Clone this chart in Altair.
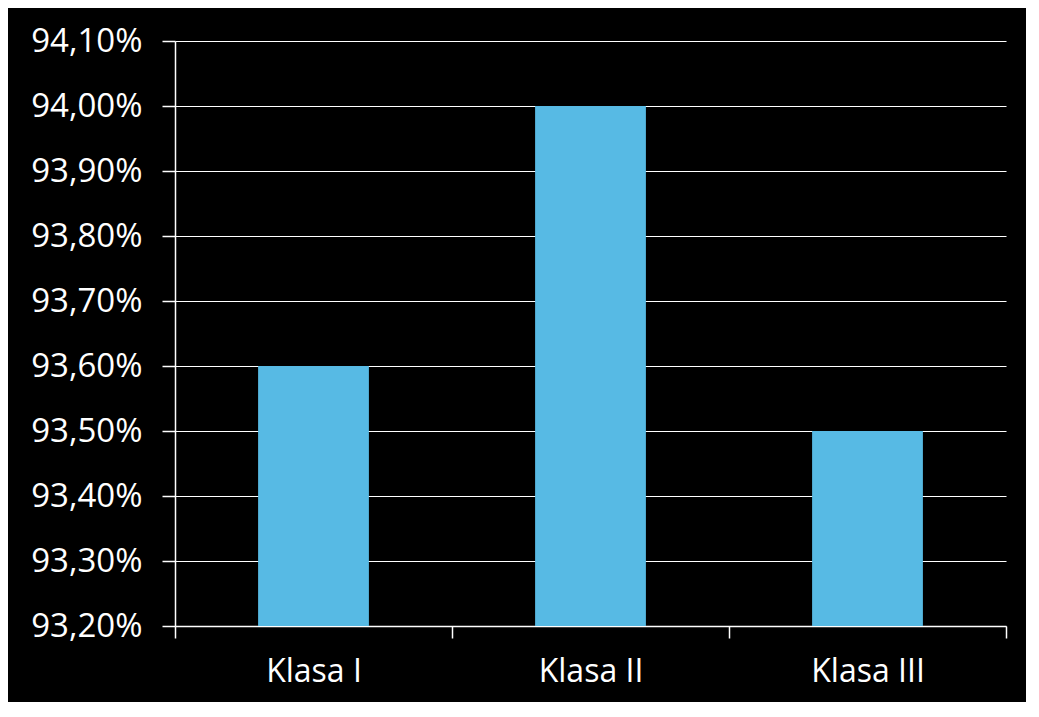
import altair as alt
import pandas as pd

categories = ["Klasa I", "Klasa II", "Klasa III"]
values = [93.60, 94.00, 93.50]

df = pd.DataFrame({"klasa": categories, "wartosc": values})

label_expr = "replace(format(datum.value, '.2f'), '.', ',') + '%'"

chart = alt.Chart(df).mark_bar(color="#57BAE4", width={"band": 0.4}).encode(
    x=alt.X(
        "klasa:N",
        sort=categories,
        title=None,
        scale=alt.Scale(paddingInner=0, paddingOuter=0),
        axis=alt.Axis(
            labelAngle=0,
            labelFont="Open Sans",
            labelFontSize=32,
            labelColor="white",
            labelPadding=18,
            tickBand="extent",
            tickColor="white",
            tickSize=12,
            tickWidth=1.5,
            domainColor="white",
            domainWidth=1.5,
            grid=False,
        ),
    ),
    y=alt.Y(
        "wartosc:Q",
        title=None,
        scale=alt.Scale(domain=[93.2, 94.1], zero=False, nice=False),
        axis=alt.Axis(
            values=[93.2, 93.3, 93.4, 93.5, 93.6, 93.7, 93.8, 93.9, 94.0, 94.1],
            labelExpr=label_expr,
            labelFont="Open Sans",
            labelFontSize=33,
            labelColor="white",
            labelPadding=20,
            tickColor="white",
            tickSize=13,
            tickWidth=1.5,
            domainColor="white",
            domainWidth=1.5,
            grid=True,
            gridColor="white",
            gridWidth=1.2,
        ),
    ),
    y2=alt.datum(93.2),
).properties(
    width=831,
    height=585,
    background="black",
    padding={"left": 167, "top": 33, "right": 20, "bottom": 76},
    autosize=alt.AutoSizeParams(type="none"),
).configure_view(stroke=None)

chart.save("out.html", embed_options={"renderer": "svg", "actions": False})
